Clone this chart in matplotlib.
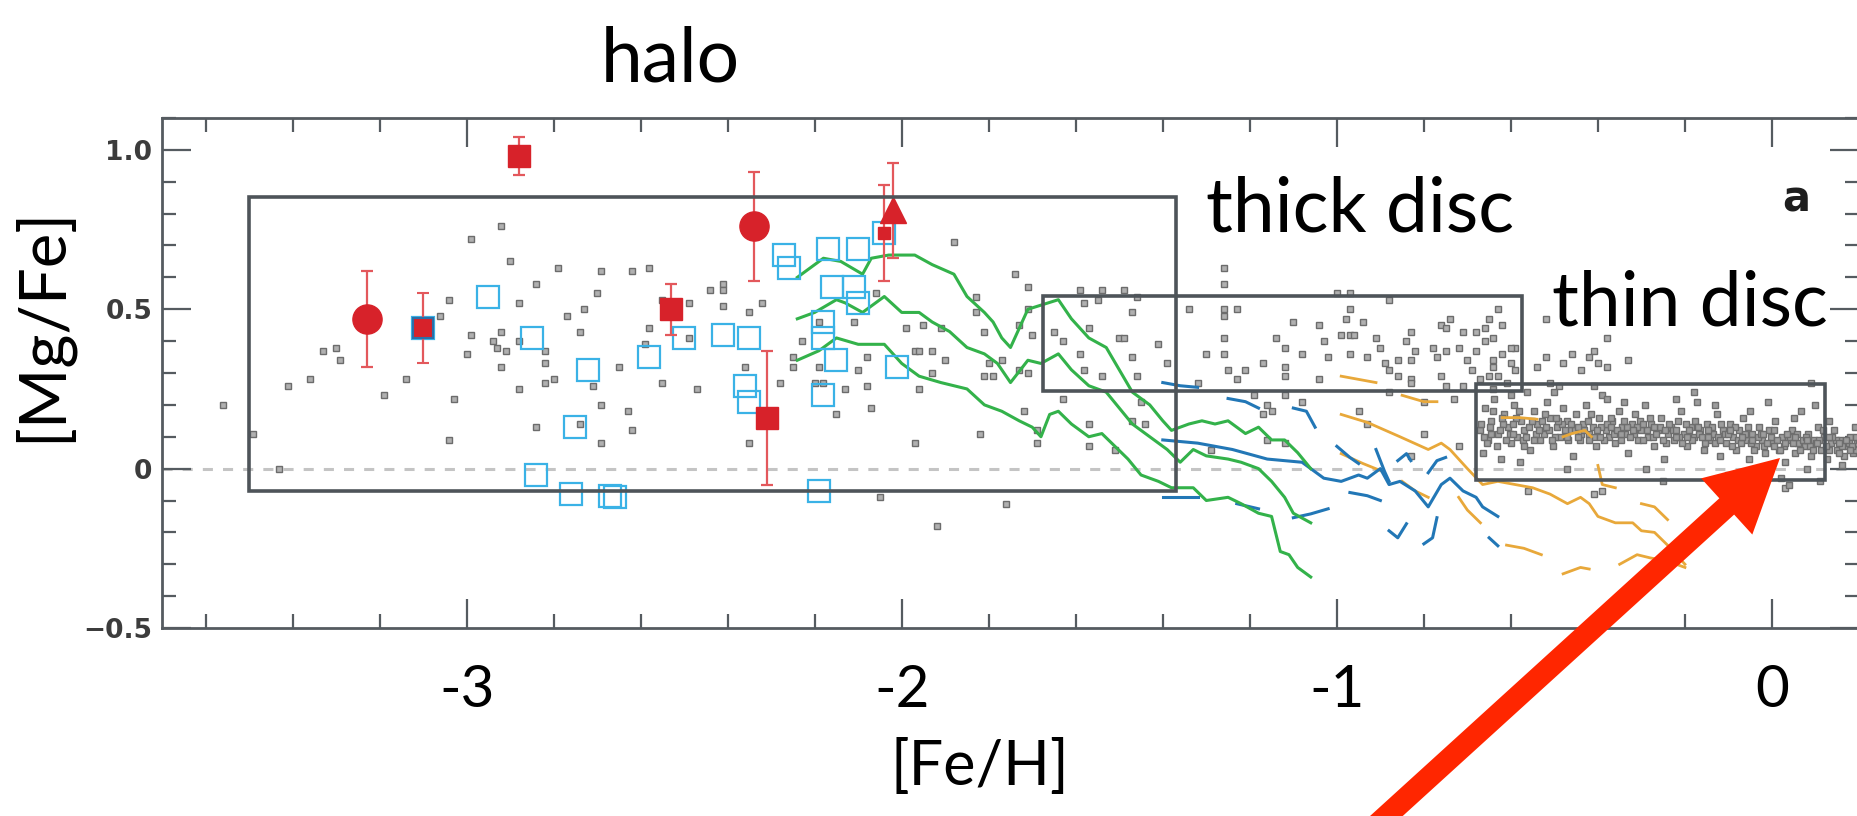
import numpy as np
import matplotlib.pyplot as plt
from matplotlib.patches import Rectangle, FancyArrow
from matplotlib.ticker import MultipleLocator

# grey field stars (halo + thick disc region)
gray_x = [-3.56, -3.49, -3.43, -3.41, -3.36, -3.33, -3.30, -3.29, -3.19, -3.14,
          -3.06, -3.04, -3.04, -3.03, -3.00, -2.99, -2.99, -2.94, -2.93, -2.91,
          -2.92, -2.92, -2.92, -2.90, -2.88, -2.88, -2.88, -2.84, -2.84, -2.82,
          -2.82, -2.82, -2.80, -2.79, -2.77, -2.74, -2.74, -2.73, -2.71, -2.70,
          -2.69, -2.69, -2.69, -2.65, -2.63, -2.62, -2.62, -2.59, -2.58, -2.58,
          -2.55, -2.55, -2.49, -2.49, -2.47, -2.44, -2.41, -2.41, -2.41, -2.35,
          -2.32, -2.36, -2.28, -2.25, -2.25, -2.23, -2.19, -2.19, -2.20, -2.18,
          -2.15, -2.13, -2.11, -2.10, -2.08, -2.08, -2.07, -2.06, -2.35, -1.99,
          -1.97, -1.96, -1.95, -1.93, -1.91, -1.90, -1.93, -1.96, -1.97, -1.88,
          -1.83, -1.83, -1.81, -1.80, -1.81, -1.79, -1.77, -1.74, -1.71, -1.71,
          -1.73, -1.70, -1.73, -1.71, -1.82, -1.72, -1.69, -1.69, -1.65, -1.63,
          -1.59, -1.58, -1.57, -1.58, -1.59, -1.55, -1.54, -1.49, -1.54, -1.50,
          -1.49, -1.47, -1.47, -1.46, -1.46, -1.41, -1.39, -1.63, -1.57, -1.57,
          -1.51, -1.47, -1.45, -1.44, -1.34, -1.30, -1.29, -1.76, -2.05, -1.92,
          -1.26, -1.26, -1.26, -1.26, -1.23, -1.32, -1.26, -1.26, -1.25,
          -1.21, -1.23, -1.17, -1.14, -1.12, -1.12, -1.12, -1.10, -1.08, -1.04,
          -1.03, -1.02, -1.04, -1.00, -0.97, -0.98, -0.97, -0.94, -0.99, -0.97,
          -0.96, -0.97, -0.93, -0.91, -0.90, -0.88, -0.89, -0.88, -0.86, -0.86,
          -0.84, -0.83, -0.82, -0.83, -0.83, -0.78, -0.77, -0.75, -0.76, -0.74,
          -0.75, -0.71, -0.72, -0.70, -0.68, -0.69, -0.67, -0.65, -0.63, -0.66,
          -0.64, -0.64, -0.64, -0.63, -0.59, -0.59, -0.61, -0.76, -0.71, -0.75,
          -0.73, -0.88, -0.83, -0.80, -0.80, -0.72, -0.95, -0.93, -1.16, -1.17,
          -1.15, -1.08, -1.12, -1.19, -1.16, -1.12, -0.83, -0.52, -0.38,
          -0.54, -0.52, -0.48, -0.46, -0.44, -0.41, -0.40, -0.38, -0.33, -0.42,
          -0.49, -0.60, -0.51, 0.09, -0.56, -0.41, -0.39, 0.03,
          -0.62, -0.66, -0.60, -0.68, -0.65, -0.62]
gray_y = [0.20, 0.11, 0.00, 0.26, 0.28, 0.37, 0.38, 0.34, 0.23, 0.28,
          0.48, 0.53, 0.09, 0.22, 0.36, 0.72, 0.42, 0.40, 0.38, 0.37,
          0.76, 0.43, 0.32, 0.65, 0.52, 0.40, 0.25, 0.58, 0.13, 0.37,
          0.33, 0.27, 0.28, 0.63, 0.48, 0.43, 0.14, 0.50, 0.26, 0.55,
          0.62, 0.20, 0.08, 0.32, 0.18, 0.62, 0.12, 0.39, 0.63, 0.44,
          0.53, 0.27, 0.52, 0.41, 0.25, 0.56, 0.58, 0.56, 0.51, 0.49,
          0.52, 0.32, 0.27, 0.35, 0.32, 0.40, 0.46, 0.32, 0.27, 0.27,
          0.17, 0.25, 0.46, 0.31, 0.35, 0.26, 0.19, 0.55, 0.08, 0.44,
          0.37, 0.37, 0.45, 0.37, 0.44, 0.34, 0.30, 0.25, 0.08, 0.71,
          0.54, 0.49, 0.43, 0.33, 0.29, 0.29, 0.34, 0.61, 0.57, 0.50,
          0.45, 0.42, 0.31, 0.30, 0.11, 0.18, 0.12, 0.08, 0.43, 0.40,
          0.36, 0.52, 0.44, 0.31, 0.56, 0.53, 0.56, 0.56, 0.29, 0.41,
          0.41, 0.49, 0.35, 0.29, 0.54, 0.39, 0.33, 0.22, 0.14, 0.07,
          0.06, 0.15, 0.21, 0.14, 0.50, 0.36, 0.06, -0.11, -0.09, -0.18,
          0.63, 0.58, 0.50, 0.48, 0.50, 0.27, 0.41, 0.36, 0.31,
          0.31, 0.28, 0.33, 0.41, 0.38, 0.32, 0.29, 0.46, 0.36, 0.45,
          0.40, 0.35, 0.28, 0.55, 0.55, 0.47, 0.50, 0.46, 0.42, 0.42,
          0.42, 0.36, 0.35, 0.41, 0.38, 0.53, 0.33, 0.31, 0.34, 0.29,
          0.40, 0.43, 0.37, 0.34, 0.28, 0.38, 0.35, 0.37, 0.45, 0.47,
          0.44, 0.43, 0.38, 0.34, 0.37, 0.31, 0.28, 0.47, 0.50, 0.44,
          0.41, 0.34, 0.32, 0.29, 0.38, 0.31, 0.27, 0.29, 0.26, 0.26,
          0.22, 0.24, 0.27, 0.21, 0.11, 0.07, 0.18, 0.14, 0.20, 0.17,
          0.18, 0.21, 0.23, 0.23, 0.09, 0.08, 0.04, 0.47, 0.41,
          0.32, 0.35, 0.33, 0.36, 0.31, 0.37, 0.33, 0.32, 0.34, 0.35,
          0.26, 0.38, 0.27, 0.27, -0.07, -0.08, -0.07, -0.06,
          0.36, 0.40, 0.33, 0.43, 0.29, 0.45]

# grey stars of the thin disc clump
thin_x = [-0.670, -0.665, -0.660, -0.652, -0.645, -0.638, -0.630, -0.622, -0.615, -0.607,
          -0.600, -0.592, -0.585, -0.577, -0.570, -0.562, -0.555, -0.548, -0.540, -0.532,
          -0.525, -0.517, -0.510, -0.503, -0.495, -0.488, -0.480, -0.472, -0.465, -0.457,
          -0.450, -0.442, -0.435, -0.428, -0.420, -0.412, -0.405, -0.397, -0.390, -0.382,
          -0.375, -0.367, -0.360, -0.352, -0.345, -0.337, -0.330, -0.322, -0.315, -0.307,
          -0.300, -0.292, -0.285, -0.277, -0.270, -0.262, -0.255, -0.247, -0.240, -0.232,
          -0.225, -0.217, -0.210, -0.202, -0.195, -0.187, -0.180, -0.172, -0.165, -0.157,
          -0.150, -0.142, -0.135, -0.127, -0.120, -0.112, -0.105, -0.097, -0.090, -0.082,
          -0.075, -0.067, -0.060, -0.052, -0.045, -0.037, -0.030, -0.022, -0.015, -0.007,
          0.000, 0.007, 0.015, 0.022, 0.030, 0.037, 0.045, 0.052, 0.060, 0.067,
          0.075, 0.082, 0.090, 0.097, 0.105, 0.112, 0.120, 0.127, 0.135, 0.142,
          0.150, 0.157, 0.165, 0.172, 0.180, 0.187, 0.195,
          -0.662, -0.648, -0.633, -0.618, -0.603, -0.588, -0.573, -0.558, -0.543, -0.528,
          -0.513, -0.498, -0.483, -0.468, -0.453, -0.438, -0.423, -0.408, -0.393, -0.378,
          -0.363, -0.348, -0.333, -0.318, -0.303, -0.288, -0.273, -0.258, -0.243, -0.228,
          -0.213, -0.198, -0.183, -0.168, -0.153, -0.138, -0.123, -0.108, -0.093, -0.078,
          -0.063, -0.048, -0.033, -0.018, -0.003, 0.012, 0.027, 0.042, 0.057, 0.072,
          0.087, 0.102, 0.117, 0.132, 0.147, 0.162, 0.177, 0.192,
          -0.668, -0.655, -0.641, -0.626, -0.611, -0.596, -0.581, -0.566, -0.551, -0.536,
          -0.521, -0.506, -0.491, -0.476, -0.461, -0.446, -0.431, -0.416, -0.401, -0.386,
          -0.371, -0.356, -0.341, -0.326, -0.311, -0.296, -0.281, -0.266, -0.251, -0.236,
          -0.221, -0.206, -0.191, -0.176, -0.161, -0.146, -0.131, -0.116, -0.101, -0.086,
          -0.071, -0.056, -0.041, -0.026, -0.011, 0.004, 0.019, 0.034, 0.049, 0.064,
          0.079, 0.094, 0.109, 0.124, 0.139, 0.154, 0.169, 0.184, 0.199,
          -0.646, -0.596, -0.546, -0.496, -0.446, -0.396, -0.346, -0.296, -0.246, -0.196,
          -0.146, -0.096, -0.046, 0.004, 0.054, 0.104, 0.154, 0.194,
          -0.620, -0.570, -0.520, -0.470, -0.420, -0.370, -0.320, -0.270, -0.220, -0.170,
          -0.120, -0.070, -0.020, 0.030, 0.080, 0.130, 0.180,
          -0.640, -0.580, -0.500, -0.470, -0.410, -0.340, -0.290, -0.220, -0.180, -0.130,
          -0.100, -0.050, -0.010, 0.020, 0.050, 0.080, 0.100, 0.130, 0.160, 0.190,
          -0.600, -0.250, 0.040, 0.110, -0.380]
thin_y = [0.12, 0.05, 0.19, 0.09, 0.15, 0.22, 0.11, 0.03, 0.17, 0.13,
          0.08, 0.20, 0.10, 0.15, 0.12, 0.24, 0.06, 0.18, 0.14, 0.09,
          0.11, 0.21, 0.16, 0.07, 0.13, 0.10, 0.19, 0.15, 0.12, 0.04,
          0.17, 0.09, 0.14, 0.20, 0.11, 0.13, 0.07, 0.16, 0.23, 0.12,
          0.10, 0.15, 0.08, 0.18, 0.13, 0.11, 0.05, 0.14, 0.17, 0.09,
          0.12, 0.20, 0.10, 0.14, 0.07, 0.12, 0.16, 0.03, 0.11, 0.13,
          0.09, 0.15, 0.18, 0.11, 0.07, 0.13, 0.10, 0.21, 0.12, 0.06,
          0.14, 0.09, 0.11, 0.17, 0.04, 0.12, 0.08, 0.14, 0.10, 0.06,
          0.12, 0.16, 0.09, 0.03, 0.11, 0.07, 0.13, 0.09, 0.05, 0.12,
          0.08, 0.15, 0.06, 0.10, 0.02, 0.09, 0.12, 0.05, 0.08, 0.18,
          0.07, 0.11, 0.04, 0.09, 0.13, 0.06, 0.10, 0.03, 0.08, 0.12,
          0.06, 0.09, 0.04, 0.07, 0.10, 0.05, 0.08,
          0.10, 0.13, 0.07, 0.14, 0.11, 0.16, 0.09, 0.13, 0.11, 0.15,
          0.12, 0.10, 0.14, 0.09, 0.12, 0.11, 0.15, 0.10, 0.13, 0.14,
          0.11, 0.09, 0.13, 0.11, 0.15, 0.12, 0.10, 0.13, 0.08, 0.12,
          0.10, 0.14, 0.09, 0.11, 0.08, 0.13, 0.10, 0.11, 0.07, 0.09,
          0.11, 0.08, 0.10, 0.07, 0.10, 0.09, 0.07, 0.10, 0.11, 0.09,
          0.07, 0.08, 0.12, 0.06, 0.09, 0.07, 0.08, 0.06,
          0.14, 0.08, 0.18, 0.12, 0.09, 0.14, 0.18, 0.10, 0.15, 0.12,
          0.17, 0.09, 0.15, 0.12, 0.14, 0.10, 0.12, 0.17, 0.12, 0.09,
          0.13, 0.12, 0.15, 0.10, 0.13, 0.09, 0.16, 0.11, 0.09, 0.14,
          0.12, 0.08, 0.12, 0.15, 0.10, 0.12, 0.08, 0.14, 0.11, 0.13,
          0.08, 0.13, 0.06, 0.11, 0.08, 0.12, 0.06, 0.11, 0.08, 0.06,
          0.10, 0.06, 0.09, 0.07, 0.10, 0.05, 0.09, 0.07, 0.09,
          0.11, 0.11, 0.09, 0.16, 0.13, 0.10, 0.11, 0.14, 0.12, 0.10,
          0.10, 0.12, 0.09, 0.07, 0.10, 0.08, 0.08, 0.10,
          0.16, 0.07, 0.13, 0.10, 0.09, 0.16, 0.12, 0.13, 0.10, 0.13,
          0.09, 0.10, 0.11, 0.08, 0.09, 0.10, 0.06,
          0.25, 0.02, 0.24, 0.00, 0.26, 0.21, 0.00, 0.22, 0.24, 0.20,
          -0.02, 0.18, 0.21, -0.03, 0.16, 0.00, 0.20, 0.15, 0.01, 0.13,
          0.23, -0.04, -0.05, -0.04, 0.22]

# open cyan squares
cyan_x = [-2.95, -3.10, -2.85, -2.72, -2.58, -2.50, -2.75, -2.84, -2.76, -2.67, -2.66,
          -2.41, -2.35, -2.27, -2.26, -2.17, -2.10, -2.04, -2.16, -2.11, -2.10, -2.18,
          -2.18, -2.15, -2.01, -2.36, -2.35, -2.18, -2.19]
cyan_y = [0.54, 0.44, 0.41, 0.31, 0.35, 0.41, 0.13, -0.02, -0.08, -0.085, -0.09,
          0.42, 0.41, 0.67, 0.63, 0.69, 0.69, 0.74, 0.57, 0.57, 0.52, 0.46,
          0.41, 0.34, 0.32, 0.26, 0.21, 0.23, -0.07]

# red symbols with error bars
circ_x = [-3.23, -2.34]
circ_y = [0.47, 0.76]
circ_err = [0.15, 0.17]
sq_x = [-2.88, -2.53, -2.31]
sq_y = [0.98, 0.50, 0.16]
sq_err = [0.06, 0.08, 0.21]
sq_blue_x = [-3.10]
sq_blue_y = [0.44]
sq_blue_err = [0.11]
tri_x = [-2.02]
tri_y = [0.81]
tri_err = [0.15]
small_x = [-2.04]
small_y = [0.74]
small_err = [0.15]

# green model tracks
green_top_x = [-2.24, -2.18, -2.14, -2.09, -2.07, -2.03, -1.97, -1.93, -1.88, -1.85, -1.81, -1.79,
               -1.77, -1.75, -1.73, -1.71, -1.64, -1.61, -1.57, -1.53, -1.50, -1.47, -1.43, -1.40,
               -1.38, -1.34, -1.31, -1.28, -1.25, -1.21, -1.18, -1.15, -1.12, -1.09, -1.06]
green_top_y = [0.60, 0.66, 0.65, 0.61, 0.66, 0.67, 0.67, 0.64, 0.61, 0.54, 0.49, 0.46,
               0.41, 0.38, 0.44, 0.50, 0.53, 0.47, 0.41, 0.38, 0.31, 0.24, 0.20, 0.15,
               0.12, 0.14, 0.15, 0.14, 0.15, 0.11, 0.13, 0.09, 0.09, 0.05, 0.00]
green_mid_x = [-2.24, -2.20, -2.15, -2.13, -2.09, -2.04, -2.00, -1.96, -1.93, -1.89, -1.85, -1.81,
               -1.78, -1.75, -1.71, -1.68, -1.64, -1.61, -1.57, -1.53, -1.50, -1.47, -1.43, -1.39,
               -1.36, -1.33, -1.30, -1.25, -1.22, -1.18, -1.15, -1.12, -1.10, -1.06]
green_mid_y = [0.47, 0.49, 0.53, 0.52, 0.49, 0.54, 0.49, 0.49, 0.46, 0.43, 0.38, 0.36,
               0.33, 0.27, 0.34, 0.33, 0.36, 0.31, 0.26, 0.24, 0.19, 0.14, 0.10, 0.06,
               0.02, 0.06, 0.04, 0.03, 0.02, 0.00, -0.04, -0.09, -0.14, -0.17]
green_low_x = [-2.24, -2.19, -2.15, -2.10, -2.04, -2.00, -1.96, -1.91, -1.85, -1.81, -1.77, -1.73,
               -1.70, -1.68, -1.66, -1.64, -1.61, -1.57, -1.54, -1.51, -1.48, -1.45, -1.41, -1.38,
               -1.33, -1.30, -1.25, -1.22, -1.18, -1.15, -1.13, -1.11, -1.09, -1.06]
green_low_y = [0.34, 0.37, 0.41, 0.39, 0.39, 0.33, 0.29, 0.27, 0.25, 0.20, 0.18, 0.15,
               0.13, 0.10, 0.17, 0.18, 0.14, 0.10, 0.11, 0.07, 0.03, -0.02, -0.04, -0.06,
               -0.06, -0.10, -0.09, -0.11, -0.14, -0.15, -0.26, -0.27, -0.31, -0.34]

# blue model pieces
blue_x = [[-1.40, -1.36, -1.32],
          [-1.25, -1.21, -1.18],
          [-1.10, -1.07, -1.05],
          [-1.40, -1.32, -1.24, -1.16, -1.08, -1.03, -0.99, -0.95, -0.93, -0.90, -0.88, -0.855,
           -0.82, -0.79, -0.76, -0.74, -0.71, -0.68, -0.665, -0.63],
          [-1.00, -0.97, -0.95],
          [-0.91, -0.89, -0.88],
          [-0.86, -0.84, -0.83],
          [-0.79, -0.77, -0.75],
          [-0.97, -0.93, -0.90],
          [-0.88, -0.86, -0.84],
          [-0.80, -0.78, -0.77],
          [-0.65, -0.63],
          [-1.40, -1.32],
          [-1.23, -1.18],
          [-1.10, -1.06, -1.02]]
blue_y = [[0.27, 0.26, 0.255],
          [0.22, 0.21, 0.19],
          [0.19, 0.18, 0.13],
          [0.09, 0.08, 0.06, 0.03, 0.02, -0.03, -0.04, -0.02, -0.03, 0.00, -0.05, -0.04,
           -0.07, -0.12, -0.05, -0.03, -0.07, -0.09, -0.12, -0.15],
          [0.07, 0.035, 0.016],
          [0.06, -0.01, -0.04],
          [0.025, 0.047, 0.025],
          [-0.013, 0.025, 0.035],
          [-0.075, -0.085, -0.10],
          [-0.195, -0.217, -0.173],
          [-0.236, -0.217, -0.154],
          [-0.217, -0.242],
          [-0.09, -0.09],
          [-0.11, -0.126],
          [-0.154, -0.142, -0.126]]

# orange model pieces
orange_x = [[-0.99, -0.95, -0.91],
            [-0.85, -0.80, -0.77],
            [-0.99, -0.93, -0.855, -0.79, -0.76, -0.74, -0.70, -0.665, -0.63, -0.55, -0.51, -0.47,
             -0.44, -0.42, -0.40, -0.36, -0.32, -0.30, -0.27, -0.24, -0.20],
            [-0.99, -0.94, -0.90],
            [-0.85, -0.82, -0.79],
            [-0.72, -0.70, -0.67],
            [-0.61, -0.57, -0.53],
            [-0.48, -0.44, -0.42],
            [-0.35, -0.31, -0.28, -0.24, -0.20],
            [-0.30, -0.27, -0.24],
            [-0.62, -0.58, -0.54],
            [-0.48, -0.46, -0.43, -0.415],
            [-0.40, -0.39, -0.36]]
orange_y = [[0.29, 0.28, 0.27],
            [0.23, 0.21, 0.21],
            [0.17, 0.145, 0.10, 0.06, 0.08, 0.06, 0.00, -0.05, -0.04, -0.06, -0.08, -0.11,
             -0.09, -0.11, -0.15, -0.17, -0.17, -0.195, -0.20, -0.24, -0.30],
            [0.047, 0.016, -0.006],
            [-0.04, -0.07, -0.09],
            [-0.09, -0.13, -0.17],
            [-0.24, -0.25, -0.27],
            [-0.33, -0.31, -0.315],
            [-0.30, -0.27, -0.28, -0.29, -0.31],
            [-0.11, -0.12, -0.16],
            [0.16, 0.16, 0.155],
            [0.10, 0.11, 0.12, 0.10],
            [0.01, -0.05, -0.06]]

# population boxes: x0, y0, x1, y1
halo_box = [-3.50, -0.069, -1.370, 0.852]
thick_box = [-1.675, 0.242, -0.575, 0.541]
thin_box = [-0.681, -0.035, 0.121, 0.267]

xtick_vals = [-3, -2, -1, 0]
xtick_text = ['-3', '-2', '-1', '0']
ytick_vals = [1.0, 0.5, 0, -0.5]
ytick_text = ['1.0', '0.5', '0', '\u22120.5']

W, H = 1858, 816
fig = plt.figure(figsize=(W / 100, H / 100), dpi=100)
ax = fig.add_axes([162 / W, 188 / H, 1697 / W, 510 / H])

spine_col = '#555b60'
ax.set_xlim(-3.7, 0.2)
ax.set_ylim(-0.5, 1.1)
ax.axhline(0, color='#c4c4c4', lw=2.2, ls=(0, (3.3, 3.3)), zorder=1)

ax.plot(gray_x, gray_y, 's', ms=4.8, mfc='#b0b0b0', mec='#6c6c6c', mew=1.0, zorder=2)
ax.plot(thin_x, thin_y, 's', ms=5, mfc='#9c9c9c', mec='#6e6e6e', mew=1.0, zorder=2)

for xs, ys in zip(orange_x, orange_y):
    ax.plot(xs, ys, color='#e8a83a', lw=2.0, zorder=3)
for xs, ys in zip(blue_x, blue_y):
    ax.plot(xs, ys, color='#2277b6', lw=2.2, zorder=3)
for xs, ys in [(green_top_x, green_top_y), (green_mid_x, green_mid_y), (green_low_x, green_low_y)]:
    ax.plot(xs, ys, color='#33b24a', lw=2.2, zorder=3)

ax.plot(cyan_x, cyan_y, 's', ms=16, mfc='none', mec='#3ab2e6', mew=1.6, zorder=4)

red = '#d7222a'
err_kw = dict(ecolor='#e3585c', elinewidth=1.6, capsize=4, capthick=1.6, ls='none', zorder=5)
ax.errorbar(circ_x, circ_y, yerr=circ_err, fmt='o', ms=21, mfc=red, mec=red, **err_kw)
ax.errorbar(sq_x, sq_y, yerr=sq_err, fmt='s', ms=16, mfc=red, mec=red, **err_kw)
ax.errorbar(sq_blue_x, sq_blue_y, yerr=sq_blue_err, fmt='s', ms=15, mfc=red, mec='#2c6fa8',
            mew=1.5, **err_kw)
ax.errorbar(tri_x, tri_y, yerr=tri_err, fmt='^', ms=19, mfc=red, mec=red, **err_kw)
ax.errorbar(small_x, small_y, yerr=small_err, fmt='s', ms=9, mfc=red, mec=red, **err_kw)

for b in (halo_box, thick_box, thin_box):
    ax.add_patch(Rectangle((b[0], b[1]), b[2] - b[0], b[3] - b[1], fill=False,
                           ec='#4e5459', lw=2.6, zorder=6))

for s in ax.spines.values():
    s.set_color(spine_col)
    s.set_linewidth(2.0)
ax.xaxis.set_minor_locator(MultipleLocator(0.2))
ax.yaxis.set_minor_locator(MultipleLocator(0.1))
ax.tick_params(which='both', direction='in', top=True, right=True, color=spine_col, width=1.6)
ax.tick_params(which='major', length=21)
ax.tick_params(which='minor', length=10)
ax.set_xticks(xtick_vals)
ax.set_xticklabels(xtick_text, fontsize=42, family='Lato', color='black')
ax.tick_params(axis='x', pad=26)
ax.set_yticks(ytick_vals)
ax.set_yticklabels(ytick_text, fontsize=19, fontweight='bold', color='#3c3c3c')
ax.tick_params(axis='y', pad=7)

# overlay in pixel coordinates for the slide annotations
ov = fig.add_axes([0, 0, 1, 1], zorder=10)
ov.set_xlim(0, W)
ov.set_ylim(H, 0)
ov.axis('off')
big = dict(family='Lato', color='black')
ov.text(601, 81, 'halo', fontsize=54, ha='left', va='baseline', **big)
ov.text(1206, 231, 'thick disc', fontsize=54, ha='left', va='baseline', **big)
ov.text(1552, 326, 'thin disc', fontsize=54, ha='left', va='baseline', **big)
ov.text(980, 768, '[Fe/H]', fontsize=44, ha='center', va='center', **big)
ov.text(41, 324, '[Mg/Fe]', fontsize=47, ha='center', va='center', rotation=90, **big)
ov.text(1796, 199, 'a', fontsize=30, fontweight='bold', ha='center', va='center', color='#1e1e1e')
ov.add_patch(FancyArrow(1338, 860, 442, -402, width=22, head_width=76, head_length=72,
                        length_includes_head=True, color='#ff2600', lw=0))

fig.savefig('out.png', dpi=100)
